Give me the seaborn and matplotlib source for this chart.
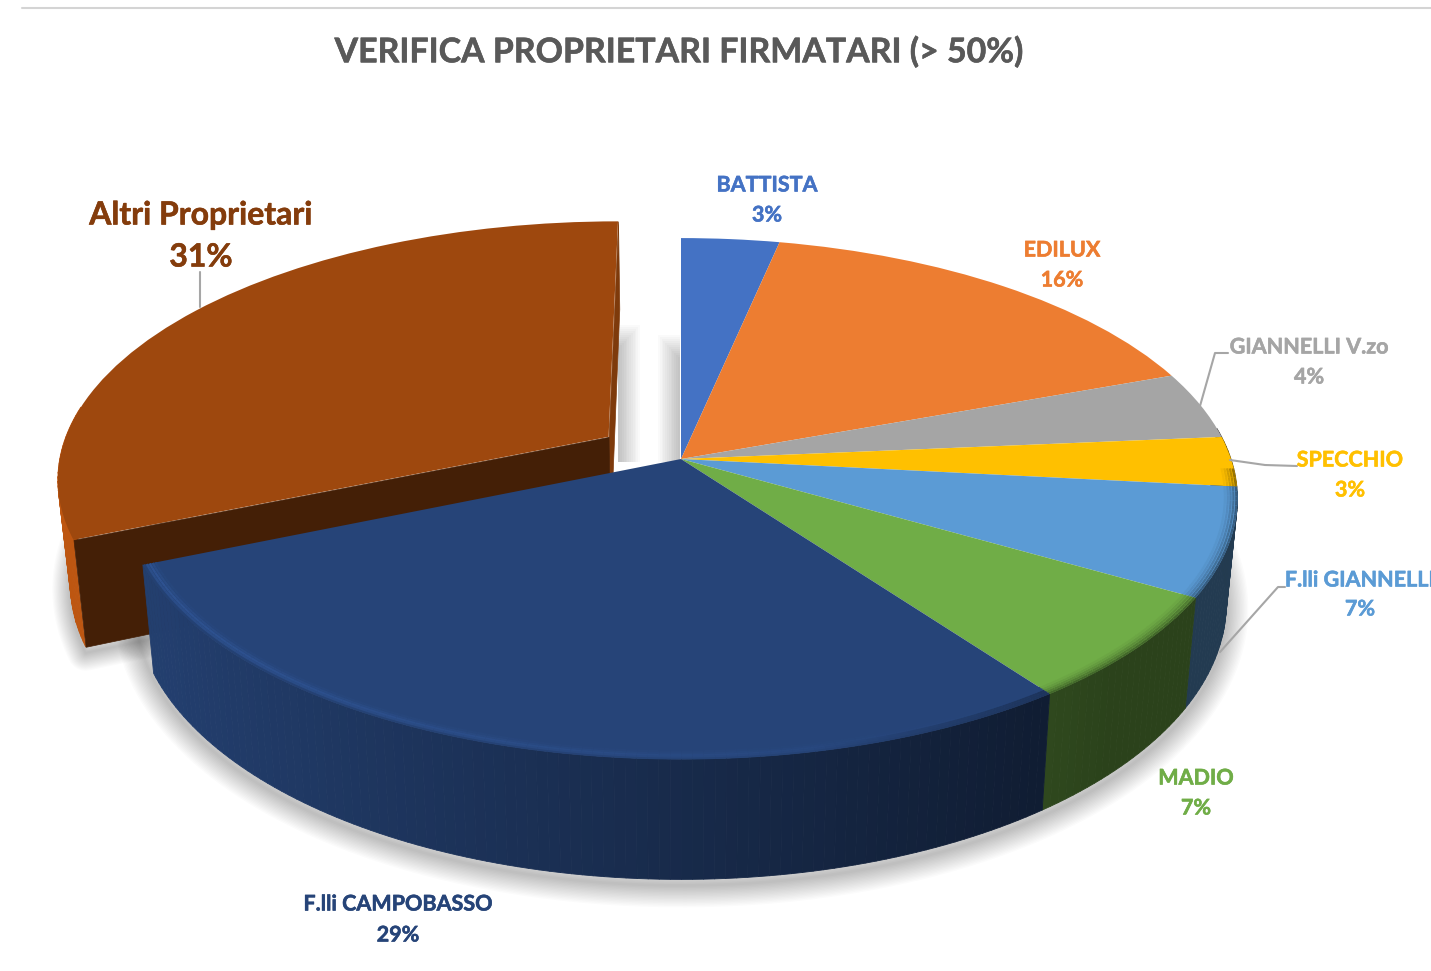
import numpy as np
import matplotlib
matplotlib.use('Agg')
import matplotlib.pyplot as plt
import matplotlib.patheffects as pe
import seaborn as sns
from matplotlib.collections import LineCollection, PolyCollection
from matplotlib.transforms import Transform

# Dati
nomi = ['BATTISTA', 'EDILUX', 'GIANNELLI V.zo', 'SPECCHIO', 'F.lli GIANNELLI',
        'MADIO', 'F.lli CAMPOBASSO', 'Altri Proprietari']
quote = [3.3, 16.1, 4.2, 3.1, 6.7, 6.6, 28.6, 31.4]
staccato = [0, 0, 0, 0, 0, 0, 0, 0.16]
colori = ['#4472C4', '#ED7D31', '#A5A5A5', '#FFC000', '#5B9BD5', '#70AD47', '#264478', '#9E480E']
titolo = 'VERIFICA PROPRIETARI FIRMATARI (> 50%)'

# Posizione etichette (pixel)
pos_nome = [(767, 185), (1062, 250), (1309, 347), (1350, 460), (1360, 580),
            (1196, 778), (398, 904), (201, 215)]
pos_perc = [(767, 215), (1062, 280), (1309, 377), (1350, 490), (1360, 609),
            (1196, 808), (398, 935), (201, 257)]

# Linee guida
guide = [[(200, 307), (200, 272)],
         [(1200, 406), (1215, 353), (1228, 353)],
         [(1230, 460), (1265, 465), (1297, 466)],
         [(1220, 652), (1278, 587), (1285, 587)]]

# Prospettiva della torta
CX, CY = 681, 459
RX, A, K, D = 550, 254.5, 0.152, 102


def proietta(x, y, z=0.0):
    w = 1 + K * y
    return CX + RX * x / w * (1 - 0.02 * z), CY - A * y / w + D * z / w


class Prospettiva(Transform):
    input_dims = 2
    output_dims = 2

    def transform_non_affine(self, xy):
        xy = np.asarray(xy)
        px, py = proietta(xy[:, 0], xy[:, 1])
        return np.column_stack([px, py])


def scala(colore, f):
    return tuple(np.clip(np.array(matplotlib.colors.to_rgb(colore)) * f, 0, 1))


def luce(x):
    return np.clip(0.62 - 0.34 * x, 0.38, 0.92)


def alone(ax, px, py, largo=44, passi=16):
    # ombra morbida: tratti sovrapposti sempre piu' sottili
    for k in range(passi):
        ax.plot(px, py + 6, color='black', alpha=0.016, lw=largo * (1 - k / passi) * 0.72,
                solid_capstyle='round', solid_joinstyle='round', zorder=0)


sns.set_theme(style='white')
plt.rcParams['font.family'] = ['Lato', 'DejaVu Sans']

fig, ax = plt.subplots(figsize=(14.31, 9.71), dpi=100)
fig.subplots_adjust(0, 0, 1, 1)

spicchi, _ = ax.pie(quote, colors=sns.color_palette(colori), startangle=90, counterclock=False,
                    explode=staccato, wedgeprops=dict(linewidth=0))
ax.set_aspect('auto')
ax.set_xlim(0, 1431)
ax.set_ylim(971, 0)
ax.axis('off')

prosp = Prospettiva() + ax.transData
for i, sp in enumerate(spicchi):
    altri = staccato[i] > 0
    base_z = 1 if altri else 4
    sp.set_transform(prosp)
    sp.set_zorder(base_z + 2)
    sp.set_clip_on(False)
    cx, cy = sp.center
    ang = np.radians(np.arange(sp.theta1, sp.theta2 + 0.5, 1.0))
    ang[-1] = np.radians(sp.theta2)

    # parete esterna, solo la parte rivolta verso chi guarda
    quad, tinte = [], []
    for a, b in zip(ang[:-1], ang[1:]):
        if np.sin((a + b) / 2) > 0.12:
            continue
        xa, ya = cx + np.cos(a), cy + np.sin(a)
        xb, yb = cx + np.cos(b), cy + np.sin(b)
        quad.append([proietta(xa, ya), proietta(xb, yb), proietta(xb, yb, 1), proietta(xa, ya, 1)])
        f = luce((xa + xb) / 2)
        tinte.append(scala(colori[i], f * 1.3 if altri else f))
    if quad:
        ax.add_collection(PolyCollection(quad, facecolors=tinte, edgecolors=tinte, linewidths=0.6,
                                         zorder=base_z))

    if altri:
        # pareti del taglio: theta1 e' il lato verticale, theta2 quello in basso
        for t, f, dz in ((sp.theta1, 0.8, 1), (sp.theta2, 0.43, 1.2)):
            xr, yr = cx + np.cos(np.radians(t)), cy + np.sin(np.radians(t))
            vert = [proietta(cx, cy), proietta(xr, yr), proietta(xr, yr, 1), proietta(cx, cy, 1)]
            ax.add_collection(PolyCollection([vert], facecolors=[scala(colori[i], f)],
                                             edgecolors=[scala(colori[i], f)], linewidths=0.5,
                                             zorder=base_z + dz))
        # ombra sotto lo spigolo e il fianco
        t = np.radians(np.linspace(sp.theta2 - 35, sp.theta2, 40))
        bx, by = proietta(cx + np.cos(t), cy + np.sin(t), 1)
        fx, fy = proietta(cx, cy, 1)
        alone(ax, np.r_[bx, fx], np.r_[by, fy], largo=36)
    else:
        # smusso sul bordo anteriore
        front = ang[np.sin(ang) < -0.02]
        if len(front) > 1:
            for r, peso in ((0.998, 0.6), (0.993, 0.72), (0.988, 0.82), (0.983, 0.9), (0.978, 0.96)):
                px, py = proietta(r * np.cos(front), r * np.sin(front))
                seg = np.stack([np.column_stack([px[:-1], py[:-1]]),
                                np.column_stack([px[1:], py[1:]])], axis=1)
                if i == 6:
                    p = {0.998: 0.95, 0.993: 1.15, 0.988: 1.22, 0.983: 1.12, 0.978: 1.04}[r]
                    tinta = [scala(colori[i], 1 + (p - 1) * (1 - np.clip((np.cos(a) + 1) / 1.6, 0, 1))
                                   - 0.25 * np.clip((np.cos(a) - 0.2) / 0.4, 0, 1) * (r > 0.985))
                             for a in front[:-1]]
                else:
                    tinta = [scala(colori[i], peso) for a in front[:-1]]
                ax.add_collection(LineCollection(seg, colors=tinta, linewidths=1.6, zorder=base_z + 3))

# ombra sotto la torta
t = np.radians(np.linspace(-200, 5, 220))
bx, by = proietta(np.cos(t), np.sin(t), 1)
alone(ax, bx, by)

# ombre nella fessura tra gli spicchi
for k in range(12):
    ax.fill_betweenx([325 + k * 2, 462], 618, 618 + 22 - k * 1.8, color='black', alpha=0.018, lw=0, zorder=0)
    ax.fill_betweenx([335 + k * 2, 462], 680 - 22 + k * 1.8, 680, color='black', alpha=0.018, lw=0, zorder=0)

# Linee guida ed etichette
for g in guide:
    ax.plot(*zip(*g), color='#A6A6A6', lw=1.5, zorder=8)

for i, nome in enumerate(nomi):
    dim = 23 if staccato[i] > 0 else 15.5
    col = colori[i] if staccato[i] == 0 else '#843C0C'
    bordo = [pe.withStroke(linewidth=0.4, foreground=col)]
    ax.text(*pos_nome[i], nome, color=col, fontsize=dim, fontweight='bold', ha='center', va='center',
            zorder=9, path_effects=bordo)
    ax.text(*pos_perc[i], f'{round(quote[i])}%', color=col, fontsize=dim, fontweight='bold',
            ha='center', va='center', zorder=9, path_effects=bordo)

ax.text(679, 52, titolo, color='#595959', fontsize=24.4, fontweight='bold', ha='center', va='center',
        path_effects=[pe.withStroke(linewidth=0.4, foreground='#595959')])
ax.plot([22, 1431], [8, 8], color='#D4D4D4', lw=1.5)

fig.savefig('out.png', dpi=100)
